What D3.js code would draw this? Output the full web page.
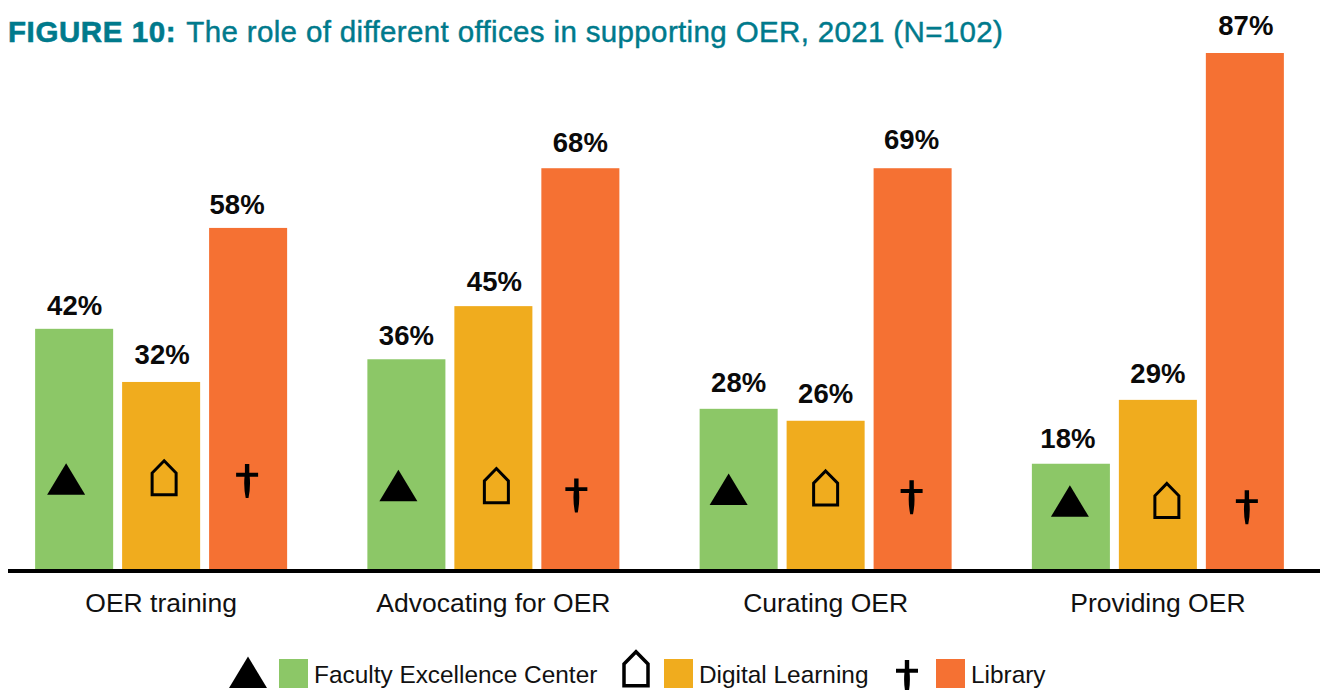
<!DOCTYPE html>
<html><head><meta charset="utf-8">
<script src="https://cdn.jsdelivr.net/npm/d3@7"></script>
<style>html,body{margin:0;padding:0;background:#fff}svg{display:block}text{font-family:"Liberation Sans",Arial,sans-serif}</style>
</head><body><svg id="c" width="1320" height="690"></svg>
<script>
const categories = ["OER training","Advocating for OER","Curating OER","Providing OER"];
const seriesNames = ["Faculty Excellence Center","Digital Learning","Library"];
const seriesColors = ["#8cc767","#f0ac1e","#f57133"];
const printedLabels = [[42,32,58],[36,45,68],[28,26,69],[18,29,87]];
// bar lengths as drawn in the picture (they differ slightly from the printed labels)
const drawnValues = [[40.9,32,57.8],[35.8,44.7,67.8],[27.5,25.5,67.8],[18.3,29,87.1]];
// level at which each icon sits inside its bar
const iconLevels = [[15.7,15.9,15.4],[14.6,14.6,13],[14,14.2,12.7],[12,12.1,11]];
// hand placement of icons and labels in the original
const iconNudge = [[-8,3,-1],[-8,3,-4],[-10,0,-1],[-1,9,2]];
const labelNudge = [[0.5,1,-11],[0,1,0],[0,0,-1],[-3,0,1]];
const labelLift = [[14,17.5,13.5],[14.5,15,16],[16.5,17.5,19.5],[16,17,18.5]];

const svg = d3.select("#c");
const baseY = 573;
const y = d3.scaleLinear().domain([0,87.1]).range([baseY,53]);
const x0 = d3.scaleBand().domain(categories).range([-5,1324]);
const x1 = d3.scaleBand().domain(seriesNames).range([0,252]).paddingInner(0.103);

function icon(sel, kind, s, sw){
  if(kind===0){
    sel.append("path").attr("fill","#000").attr("d",d3.line()([[0,-16*s],[19*s,15.5*s],[-19*s,15.5*s]])+"Z");
  } else if(kind===1){
    sel.append("path").attr("fill","none").attr("stroke","#000").attr("stroke-width",sw||3)
      .attr("d",d3.line()([[0,-17.3],[12,-5],[12,16.8],[-12,16.8],[-12,-5]])+"Z");
  } else {
    sel.append("path").attr("fill","#000")
      .attr("d","M-2.2,-17L2.2,-17L2.2,-8.2L11,-8.2L11,-4.3L2.6,-4.3Q3.6,6 1.4,17L-1.4,17Q-3.6,6 -2.6,-4.3L-11,-4.3L-11,-8.2L-2.2,-8.2Z");
  }
}

const groups = svg.selectAll("g.group").data(categories).join("g")
  .attr("class","group")
  .attr("transform",c=>`translate(${x0(c)+x0.bandwidth()/2-126},0)`);

groups.each(function(c,i){
  const g = d3.select(this);
  seriesNames.forEach((s,j)=>{
    const v = drawnValues[i][j];
    const cx = x1(s)+x1.bandwidth()/2;
    g.append("rect").attr("x",x1(s)).attr("width",x1.bandwidth())
      .attr("y",y(v)).attr("height",baseY-y(v)).attr("fill",seriesColors[j]);
    g.append("text").attr("x",cx+labelNudge[i][j]).attr("y",y(v)-labelLift[i][j])
      .attr("text-anchor","middle").attr("font-size",27.5).attr("font-weight","bold").attr("fill","#0a0a0a")
      .text(printedLabels[i][j]+"%");
    icon(g.append("g").attr("transform",`translate(${cx+iconNudge[i][j]},${y(iconLevels[i][j])})`),j,1);
  });
});

// axis
const axis = svg.append("g").attr("transform","translate(0,571)")
  .call(d3.axisBottom(x0).tickSize(0).tickPadding(0));
axis.select(".domain").remove();
axis.append("line").attr("x1",8).attr("x2",1320).attr("stroke","#000").attr("stroke-width",4);
axis.selectAll(".tick text").attr("y",41).attr("dy",0).attr("font-size",26.5)
  .attr("font-family",'"Liberation Sans",Arial,sans-serif').attr("fill","#111");

// title
const t = svg.append("text").attr("x",8).attr("y",42).attr("font-size",29.5).attr("fill","#007a8c")
  .attr("stroke","#007a8c").attr("stroke-width",0.45);
t.append("tspan").attr("font-weight","bold").attr("letter-spacing",0.6).attr("stroke-width",0.6).text("FIGURE 10:");
t.append("tspan").attr("dx",10).attr("letter-spacing",0.36).text("The role of different offices in supporting OER, 2021 (N=102)");

// legend
const legendIconX = [248,636,907], legendIconY = [672.5,669,677], legendSwatchX = [279,664,936], legendTextX = [314,699,971];
seriesNames.forEach((s,j)=>{
  const g = svg.append("g");
  icon(g.append("g").attr("transform",`translate(${legendIconX[j]},${legendIconY[j]})`),j,1,3.5);
  g.append("rect").attr("x",legendSwatchX[j]).attr("y",659).attr("width",29).attr("height",29).attr("fill",seriesColors[j]);
  g.append("text").attr("x",legendTextX[j]).attr("y",683).attr("font-size",24.4).attr("fill","#111").text(s);
});
</script></body></html>
